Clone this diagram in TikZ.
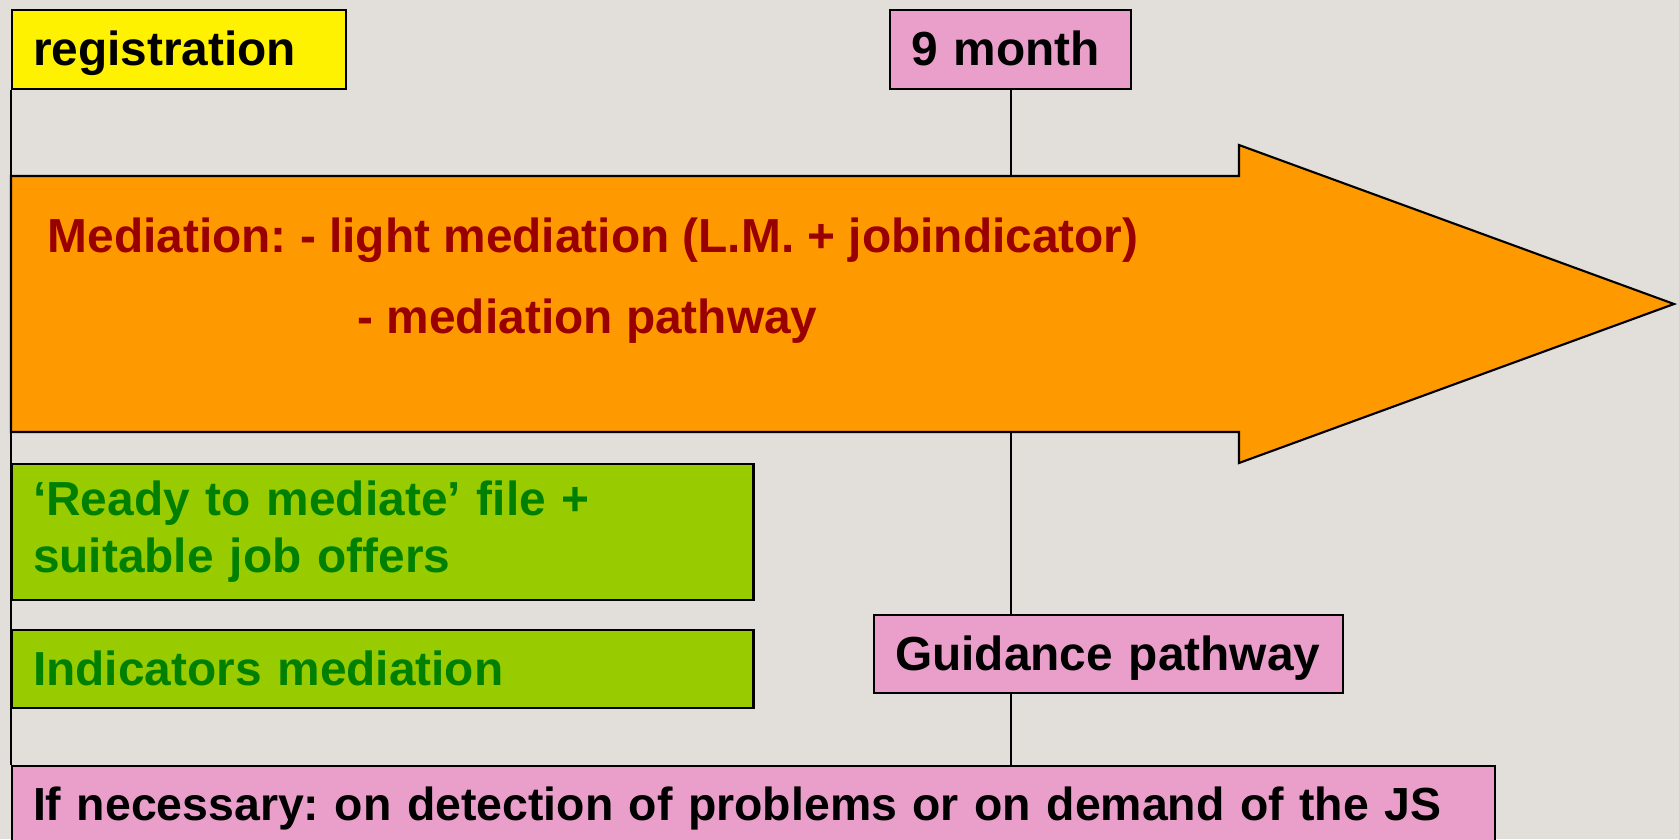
\documentclass[tikz,border=0pt]{standalone}
\usepackage{fontspec}
\setmainfont{Liberation Sans}
\usetikzlibrary{positioning}

\definecolor{bgcol}{HTML}{E2DED9}
\definecolor{orangecol}{HTML}{FF9900}
\definecolor{pinkcol}{HTML}{EA9FCB}
\definecolor{limecol}{HTML}{99CC00}
\definecolor{darkgreen}{HTML}{008000}
\definecolor{maroon}{HTML}{990000}

\tikzset{
  box/.style = {draw, rectangle, anchor = north west, inner xsep = 0.21cm, inner ysep = 0pt, align = left, line width = 0.6pt,
    font = \fontsize{13.6}{16.2}\selectfont\bfseries\frenchspacing},
  oneline/.style = {text height = 1.13em, text depth = 0.2em},
  greenbox/.style = {box, fill = limecol, text = darkgreen, text width = 6.99cm},
  pinkbox/.style = {box, fill = pinkcol},
  medtext/.style = {anchor = west, inner sep = 0pt, text = maroon, font = \fontsize{13.6}{16.2}\selectfont\bfseries\frenchspacing}
}

\begin{document}
\begin{tikzpicture}[x = 0.01cm, y = -0.01cm]
\fill[bgcol] (0, 0) rectangle (1679, 839);
\useasboundingbox (0, 0) rectangle (1679, 839);

\node[box, oneline, fill = yellow, text width = 2.92cm, minimum height = 0.79cm] (reg) at (11, 9) {registration};
\node[pinkbox, oneline, text width = 1.99cm, minimum height = 0.79cm] (month) at (889, 9) {9 month};

% the big arrow
\coordinate (atop) at (11, 176);
\coordinate (abot) at (11, 432);
\filldraw[fill = orangecol, line width = 0.6pt] (atop) -- (1239, 176) -- (1239, 145) -- (1674, 304) -- (1239, 463) -- (1239, 432) -- (abot) -- cycle;
\node[medtext] (med) at (47, 240) {Mediation: - light mediation (L.M. + jobindicator)};
\node[medtext] (path) at (357, 321) {- mediation pathway};

\node[greenbox, minimum height = 1.36cm] (ready) at (11, 463) {‘Ready to mediate’ file +\\suitable job offers};
\node[greenbox, oneline, minimum height = 0.78cm] (ind) at (11, 629) {Indicators mediation};
\node[pinkbox, oneline, text width = 4.27cm, minimum height = 0.78cm] (guide) at (873, 614) {Guidance pathway};
\node[pinkbox, oneline, text width = 14.40cm, minimum height = 0.77cm,
  font = \fontsize{13.2}{16}\selectfont\bfseries\frenchspacing] (js) at (11, 765) {If necessary: on detection of problems or on demand of the JS};

% time lines
\draw[line width = 0.6pt] (reg.south west) -- (js.north west);
\draw[line width = 0.6pt] (month.south) -- (month.south |- atop);
\draw[line width = 0.6pt] (month.south |- abot) -- (month.south |- guide.north);
\draw[line width = 0.6pt] (month.south |- guide.south) -- (month.south |- js.north);
\end{tikzpicture}
\end{document}
